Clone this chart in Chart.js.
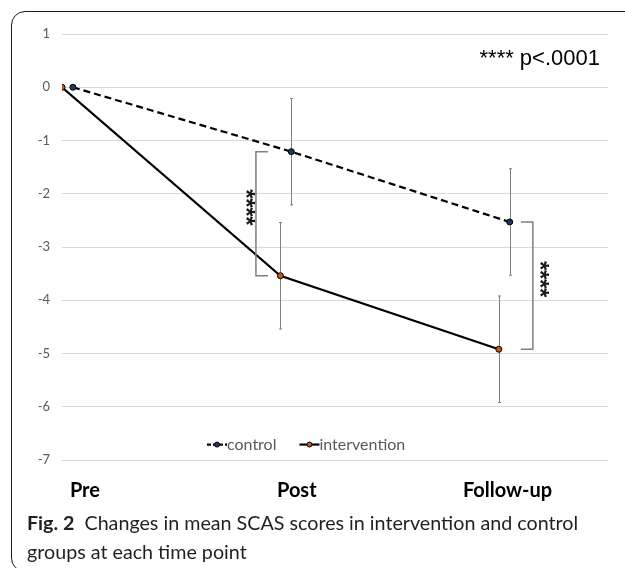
<!DOCTYPE html>
<html>
<head>
<meta charset="utf-8">
<script src="https://cdn.jsdelivr.net/npm/chart.js@4.4.0/dist/chart.umd.min.js"></script>
<style>
body { margin: 0; background: #fff; overflow: hidden; }
#wrap { position: relative; width: 625px; height: 568px; overflow: hidden; }
#frame { position: absolute; left: 11px; top: 11px; width: 700px; height: 561px;
         border: 1.5px solid #1a1a1a; border-radius: 14px; box-sizing: border-box; }
#chartBox { position: absolute; left: 0; top: 0; width: 625px; height: 568px; }
#caption { position: absolute; left: 27px; top: 508px; font-family: Lato, sans-serif;
           font-size: 19.7px; line-height: 29px; color: #231f20; white-space: nowrap; }
#caption b { font-weight: 700; }
</style>
</head>
<body>
<div id="wrap">
  <div id="frame"></div>
  <div id="chartBox"><canvas id="canvas"></canvas></div>
  <div id="caption"><b>Fig. 2</b>&nbsp; Changes in mean SCAS scores in intervention and control<br>groups at each time point</div>
</div>
<script>
// time points and where their labels sit on the x axis
var timeLabels = ['Pre', 'Post', 'Follow-up'];
var labelPos = [0.105, 1.075, 2.04];

// x positions of the points (control is nudged right a little)
var interventionX = [0, 1, 2];
var controlX = [0.05, 1.05, 2.05];

// mean change in SCAS score
var controlMean = [0, -1.21, -2.53];
var interventionMean = [0, -3.54, -4.92];

// error bar half lengths
var controlErr = [0, 1.0, 1.0];
var interventionErr = [0, 1.0, 1.0];

// significance brackets: time index, x of the bracket, arm direction
var bracketIdx = [1, 2];
var bracketX = [0.888, 2.156];
var bracketDir = [1, -1];
var sigMark = '****';
var sigNote = '**** p<.0001';

Chart.defaults.font.family = 'Lato, sans-serif';

function toXY(xs, ys) {
    var out = [];
    for (var i = 0; i < xs.length; i++) {
        out.push({x: xs[i], y: ys[i]});
    }
    return out;
}

// star column next to a bracket, one rotated glyph per star
function drawStars(ctx, cx, cy, text) {
    ctx.save();
    ctx.fillStyle = '#1a1a1a';
    ctx.font = 'bold 24px "Liberation Sans", Arial, sans-serif';
    ctx.textAlign = 'left';
    ctx.textBaseline = 'alphabetic';
    var m = ctx.measureText('*');
    var gx = (m.actualBoundingBoxRight - m.actualBoundingBoxLeft) / 2;
    var gy = (m.actualBoundingBoxDescent - m.actualBoundingBoxAscent) / 2;
    var step = 9;
    var y0 = cy - step * (text.length - 1) / 2;
    for (var k = 0; k < text.length; k++) {
        ctx.save();
        ctx.translate(cx, y0 + k * step);
        ctx.rotate(Math.PI / 2);
        ctx.fillText(text[k], -gx, -gy);
        ctx.restore();
    }
    ctx.restore();
}

var extras = {
    id: 'extras',
    beforeDatasetsDraw: function(chart) {
        var ctx = chart.ctx;
        var xs = chart.scales.x, ys = chart.scales.y;
        ctx.save();
        ctx.strokeStyle = '#808080';
        ctx.lineWidth = 1;
        var sets = [[controlX, controlMean, controlErr], [interventionX, interventionMean, interventionErr]];
        sets.forEach(function(s) {
            for (var i = 0; i < s[0].length; i++) {
                if (!s[2][i]) continue;
                var px = Math.round(xs.getPixelForValue(s[0][i])) + 0.5;
                var top = ys.getPixelForValue(s[1][i] + s[2][i]);
                var bot = ys.getPixelForValue(s[1][i] - s[2][i]);
                ctx.beginPath();
                ctx.moveTo(px, top); ctx.lineTo(px, bot);
                ctx.moveTo(px - 1.5, top); ctx.lineTo(px + 1.5, top);
                ctx.moveTo(px - 1.5, bot); ctx.lineTo(px + 1.5, bot);
                ctx.stroke();
            }
        });
        ctx.restore();
    },
    afterDraw: function(chart) {
        var ctx = chart.ctx;
        var xs = chart.scales.x, ys = chart.scales.y;
        var area = chart.chartArea;
        ctx.save();

        // brackets with stars
        ctx.strokeStyle = '#7f7f7f';
        ctx.lineWidth = 1.5;
        for (var b = 0; b < bracketIdx.length; b++) {
            var i = bracketIdx[b];
            var bx = xs.getPixelForValue(bracketX[b]);
            var y1 = ys.getPixelForValue(controlMean[i]);
            var y2 = ys.getPixelForValue(interventionMean[i]);
            var arm = 12 * bracketDir[b];
            ctx.beginPath();
            ctx.moveTo(bx + arm, y1); ctx.lineTo(bx, y1);
            ctx.lineTo(bx, y2); ctx.lineTo(bx + arm, y2);
            ctx.stroke();

            var sx = bracketDir[b] > 0 ? bx - 5.5 : bx + 11.5;
            var sy = (y1 + y2) / 2 - 6;
            drawStars(ctx, sx, sy, sigMark);
        }

        // p value note
        ctx.fillStyle = '#000';
        ctx.font = '22px "Liberation Sans", Arial, sans-serif';
        ctx.textAlign = 'right';
        ctx.textBaseline = 'alphabetic';
        ctx.fillText(sigNote, area.right - 8, area.top + 31);

        // legend inside the plot area
        var ly = ys.getPixelForValue(-6.71);
        var lx = 207;
        var items = [
            {text: 'control', dash: [4, 2], fill: '#1f3864'},
            {text: 'intervention', dash: [], fill: '#c55a11'}
        ];
        ctx.font = '16px Lato, sans-serif';
        ctx.textAlign = 'left';
        ctx.textBaseline = 'middle';
        items.forEach(function(it) {
            ctx.strokeStyle = '#000';
            ctx.lineWidth = 2.2;
            ctx.setLineDash(it.dash);
            ctx.beginPath();
            ctx.moveTo(lx, ly); ctx.lineTo(lx + 20, ly);
            ctx.stroke();
            ctx.setLineDash([]);
            ctx.beginPath();
            ctx.arc(lx + 10, ly, 2.5, 0, Math.PI * 2);
            ctx.fillStyle = it.fill;
            ctx.fill();
            ctx.lineWidth = 1;
            ctx.stroke();
            ctx.fillStyle = '#595959';
            ctx.fillText(it.text, lx + 20, ly);
            lx += 20 + ctx.measureText(it.text).width + 23;
        });
        ctx.restore();
    }
};

var config = {
    type: 'line',
    data: {
        datasets: [
            {
                label: 'control',
                data: toXY(controlX, controlMean),
                borderColor: '#000',
                borderWidth: 2.2,
                borderDash: [7, 4],
                pointRadius: 3,
                pointBackgroundColor: '#1f3864',
                pointBorderColor: '#000',
                pointBorderWidth: 1,
                fill: false,
                tension: 0
            },
            {
                label: 'intervention',
                data: toXY(interventionX, interventionMean),
                borderColor: '#000',
                borderWidth: 2.2,
                pointRadius: 3,
                pointBackgroundColor: '#c55a11',
                pointBorderColor: '#000',
                pointBorderWidth: 1,
                fill: false,
                tension: 0
            }
        ]
    },
    options: {
        responsive: true,
        maintainAspectRatio: false,
        animation: false,
        layout: {
            padding: {top: 34, right: 17, bottom: 54, left: 0}
        },
        scales: {
            x: {
                type: 'linear',
                min: 0,
                max: 2.5,
                grid: {display: false},
                border: {display: false},
                afterBuildTicks: function(scale) {
                    scale.ticks = labelPos.map(function(v) { return {value: v}; });
                },
                ticks: {
                    padding: 11,
                    color: '#000',
                    font: {size: 20, weight: 'bold'},
                    maxRotation: 0,
                    autoSkip: false,
                    callback: function(v, i) { return timeLabels[i]; }
                }
            },
            y: {
                min: -7,
                max: 1,
                afterFit: function(scale) { scale.width = 62; },
                grid: {color: '#d9d9d9', drawTicks: false},
                border: {display: false},
                ticks: {
                    stepSize: 1,
                    padding: 12,
                    color: '#595959',
                    font: {size: 13}
                }
            }
        },
        plugins: {
            legend: {display: false},
            tooltip: {enabled: false}
        }
    },
    plugins: [extras]
};

window.onload = function() {
    var ctx = document.getElementById('canvas').getContext('2d');
    window.myLine = new Chart(ctx, config);
};
</script>
</body>
</html>
